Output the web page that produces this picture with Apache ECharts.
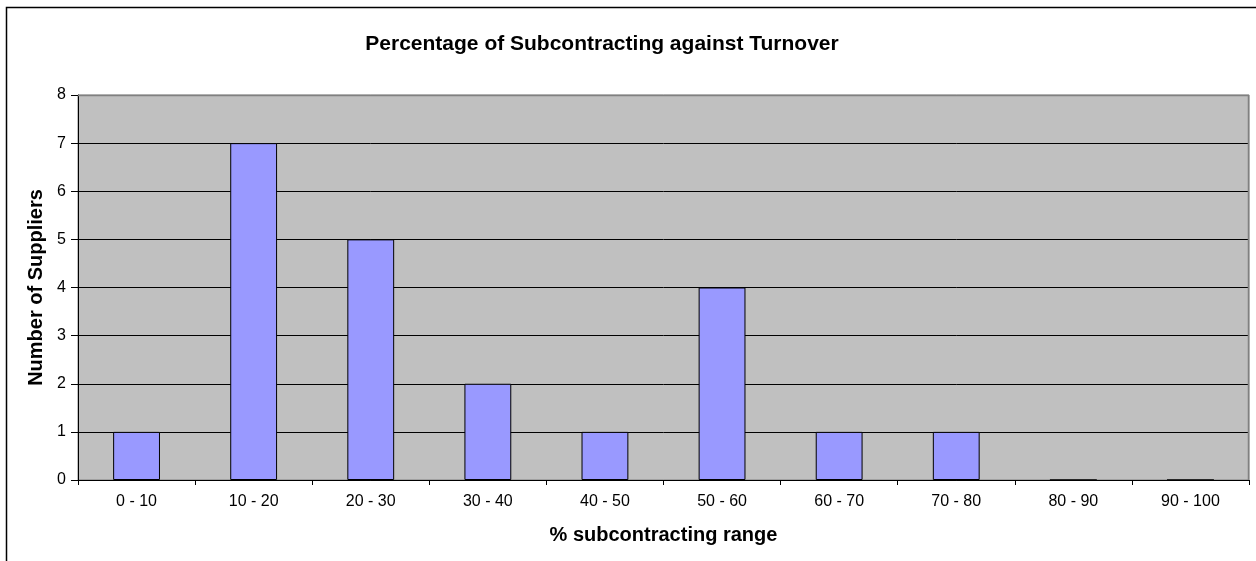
<!DOCTYPE html>
<html>
<head>
<meta charset="utf-8">
<title>Percentage of Subcontracting against Turnover</title>
<script src="https://cdn.jsdelivr.net/npm/echarts@6/dist/echarts.min.js"></script>
<style>
  html, body { margin: 0; padding: 0; background: #ffffff; }
  #chart { width: 1256px; height: 561px; }
</style>
</head>
<body>
<div id="chart"></div>
<script>
// Subcontracting share of turnover, grouped in 10% bands
const categories = ['0 - 10', '10 - 20', '20 - 30', '30 - 40', '40 - 50',
                    '50 - 60', '60 - 70', '70 - 80', '80 - 90', '90 - 100'];
const suppliers = [1, 7, 5, 2, 1, 4, 1, 1, 0, 0];
const yTicks = [0, 1, 2, 3, 4, 5, 6, 7, 8];

const FONT = '"Liberation Sans", Arial, Helvetica, sans-serif';
const GRID = { left: 78, right: 7, top: 95, bottom: 81 };

const chart = echarts.init(document.getElementById('chart'), null, { renderer: 'canvas' });

chart.setOption({
  animation: false,
  backgroundColor: '#ffffff',
  title: {
    text: 'Percentage of Subcontracting against Turnover',
    left: 597,
    top: 29,
    textAlign: 'center',
    textStyle: { fontFamily: FONT, fontSize: 21, fontWeight: 'bold', color: '#000000' }
  },
  grid: {
    left: GRID.left, right: GRID.right, top: GRID.top, bottom: GRID.bottom,
    show: true,
    backgroundColor: '#c0c0c0',
    borderColor: '#808080',
    borderWidth: 1
  },
  xAxis: {
    type: 'category',
    data: categories,
    name: '% subcontracting range',
    nameLocation: 'middle',
    nameGap: 45,
    nameTextStyle: { fontFamily: FONT, fontSize: 20, fontWeight: 'bold', color: '#000000' },
    axisLine: { lineStyle: { color: '#000000', width: 1 } },
    axisTick: { show: true, length: 5, lineStyle: { color: '#000000' } },
    axisLabel: { fontFamily: FONT, fontSize: 16, color: '#000000', margin: 14, interval: 0 },
    splitLine: { show: false }
  },
  yAxis: {
    type: 'value',
    min: yTicks[0],
    max: yTicks[yTicks.length - 1],
    interval: 1,
    name: 'Number of Suppliers',
    nameLocation: 'middle',
    nameGap: 31,
    nameTextStyle: { fontFamily: FONT, fontSize: 20, fontWeight: 'bold', color: '#000000' },
    axisLine: { show: true, lineStyle: { color: '#000000', width: 1 } },
    axisTick: { show: true, length: 7, lineStyle: { color: '#000000' } },
    axisLabel: { fontFamily: FONT, fontSize: 16, color: '#000000', margin: 12 },
    splitLine: { show: true, lineStyle: { color: '#000000', width: 1 } }
  },
  series: [{
    type: 'bar',
    data: suppliers,
    barWidth: '40%',
    itemStyle: { color: '#9999ff', borderColor: '#000000', borderWidth: 1 }
  }]
});

// Outer chart frame plus the grey top/right edges of the plot area
const topLeft = chart.convertToPixel({ gridIndex: 0 }, [0, yTicks[yTicks.length - 1]]);
const plotLeft = GRID.left;
const plotRight = 1256 - GRID.right;
const plotTop = GRID.top;
const plotBottom = 561 - GRID.bottom;

chart.setOption({
  graphic: [
    {
      type: 'rect',
      shape: { x: 6.5, y: 7.5, width: 1400, height: 800 },
      style: { fill: 'none', stroke: '#000000', lineWidth: 1.5 },
      silent: true, z: 100
    },
    {
      type: 'polyline',
      shape: { points: [[plotLeft, plotTop + 0.5], [plotRight - 0.5, plotTop + 0.5], [plotRight - 0.5, plotBottom]] },
      style: { fill: 'none', stroke: '#808080', lineWidth: 1.5 },
      silent: true, z: 100
    }
  ]
});
</script>
</body>
</html>
